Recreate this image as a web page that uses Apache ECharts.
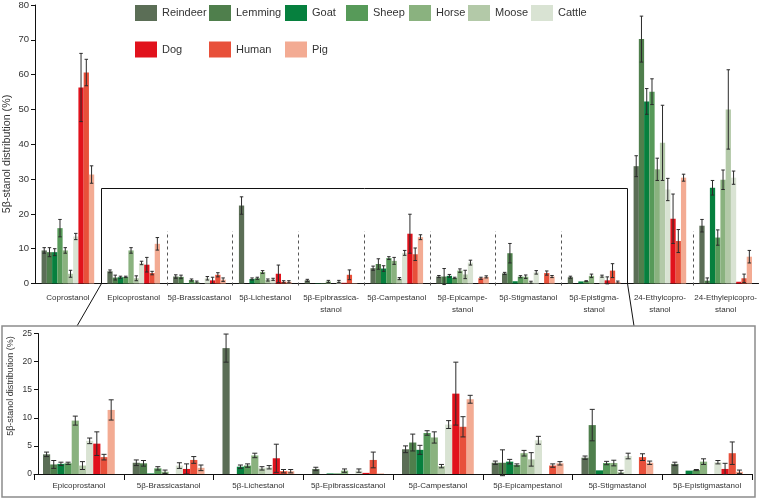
<!DOCTYPE html>
<html><head><meta charset="utf-8">
<script src="https://cdn.jsdelivr.net/npm/echarts@6/dist/echarts.min.js"></script>
<style>html,body{margin:0;padding:0;background:#fff}#c{width:760px;height:500px}</style>
</head><body><div id="c"></div>
<script>
// ---------- data ----------
const categories = ['Coprostanol','Epicoprostanol','5β-Brassicastanol','5β-Lichestanol','5β-Epibrassica-\nstanol','5β-Campestanol','5β-Epicampe-\nstanol','5β-Stigmastanol','5β-Epistigma-\nstanol','24-Ethylcopro-\nstanol','24-Ethylepicopro-\nstanol'];
const zoomCategories = ['Epicoprostanol','5β-Brassicastanol','5β-Lichestanol','5β-Epibrassicastanol','5β-Campestanol','5β-Epicampestanol','5β-Stigmastanol','5β-Epistigmastanol'];
const speciesNames = ['Reindeer','Lemming','Goat','Sheep','Horse','Moose','Cattle','Dog','Human','Pig'];
const speciesColors = ['#5b6e56','#4f7f4c','#06803e','#579a59','#8ab27f','#b3c9a8','#d9e3d3','#e1121c','#e8503a','#f3ab93'];

const reindeer    = [9.5, 3.5, 2.0, 22.4, 0.9, 4.4, 2.0, 2.9, 1.8, 33.7, 16.6];
const reindeerErr = [0.8, 0.4, 0.5, 2.5, 0.3, 0.6, 0.3, 0.3, 0.3, 3.0, 1.8];
const lemming     = [9.0, 1.7, 1.9, 0, 0, 5.6, 2.0, 8.7, 0, 70.2, 0.8];
const lemmingErr  = [1.3, 0.7, 0.5, 0, 0, 1.5, 2.3, 2.8, 0, 6.6, 0.8];
const goat        = [9.0, 1.8, 0.1, 1.3, 0.1, 4.3, 2.2, 0.65, 0.6, 52.3, 27.5];
const goatErr     = [1.0, 0.3, 0, 0.3, 0, 0.8, 0.4, 0, 0, 3.7, 2.1];
const sheep       = [15.9, 1.9, 1.0, 1.5, 0.1, 7.3, 1.6, 1.95, 0.7, 55.1, 13.2];
const sheepErr    = [2.5, 0.2, 0.3, 0.3, 0, 0.4, 0.2, 0.3, 0.1, 3.7, 2.2];
const horse       = [9.5, 9.5, 0.4, 3.3, 0.6, 6.5, 3.7, 1.95, 2.2, 32.8, 29.8];
const horseErr    = [0.8, 0.8, 0.3, 0.4, 0.3, 1.0, 0.5, 0.5, 0.5, 3.2, 2.8];
const moose       = [2.8, 1.5, 0, 1.0, 0, 1.4, 2.6, 0.35, 0, 40.4, 50.0];
const mooseErr    = [1.0, 0.7, 0, 0.3, 0, 0.3, 1.2, 0.3, 0, 10.8, 11.4];
const cattle      = [13.5, 5.9, 1.5, 1.2, 0.6, 8.8, 6.0, 3.2, 2.1, 27.0, 30.4];
const cattleErr   = [0.9, 0.5, 0.5, 0.3, 0.3, 0.7, 0.7, 0.5, 0.3, 3.2, 1.9];
const dog         = [56.3, 5.4, 0.9, 2.8, 0.2, 14.3, 0, 0, 0.9, 18.6, 0.5];
const dogErr      = [9.8, 2.1, 0.9, 2.5, 0, 5.6, 0, 0, 1.0, 7.1, 0];
const human       = [60.6, 3.0, 2.5, 0.5, 2.5, 8.4, 1.5, 3.0, 3.7, 12.2, 1.5];
const humanErr    = [3.8, 0.5, 0.6, 0.3, 1.4, 1.8, 0.3, 0.6, 2.0, 3.3, 1.2];
const pig         = [31.3, 11.4, 1.1, 0.5, 0.1, 13.3, 1.9, 2.0, 0.4, 30.4, 7.7];
const pigErr      = [2.5, 1.8, 0.5, 0.3, 0, 0.7, 0.3, 0.3, 0.3, 1.0, 1.8];

const topTicks = {min: 0, max: 80, interval: 10};
const zoomTicks = {min: 0, max: 25, interval: 5};
const dividerAfter = [1, 2, 3, 4, 5, 6, 7, 9];   // dashed separators after these category indices
const dividerHeight = 15;
const zoomFirst = 1, zoomLast = 8;                 // categories shown in the lower panel

const values = [reindeer, lemming, goat, sheep, horse, moose, cattle, dog, human, pig];
const errors = [reindeerErr, lemmingErr, goatErr, sheepErr, horseErr, mooseErr, cattleErr, dogErr, humanErr, pigErr];

// ---------- chart ----------
const chart = echarts.init(document.getElementById('c'), null, {renderer: 'canvas'});
const FONT = "'Liberation Sans',Arial,sans-serif";
const N = speciesNames.length;
const CAT_GAP = 0.2;

function errSeries(i, xi, yi, vals, errs, capFrac) {
  return {
    type: 'custom', name: speciesNames[i] + '_err', xAxisIndex: xi, yAxisIndex: yi, silent: true, z: 5,
    data: vals.map((v, k) => [k, v, errs[k]]),
    renderItem(params, api) {
      const c = api.value(0), v = api.value(1), e = api.value(2);
      if (!e) return null;
      const band = api.size([1, 0])[0];
      const bw = band * (1 - CAT_GAP) / N;
      const cx = api.coord([c, v])[0] + (i - (N - 1) / 2) * bw;
      const yt = api.coord([c, v + e])[1], yb = api.coord([c, v - e])[1];
      const cap = bw * capFrac;
      const st = {stroke: '#2b2b2b', lineWidth: 1};
      return {type: 'group', children: [
        {type: 'line', shape: {x1: cx, y1: yt, x2: cx, y2: yb}, style: st},
        {type: 'line', shape: {x1: cx - cap, y1: yt, x2: cx + cap, y2: yt}, style: st},
        {type: 'line', shape: {x1: cx - cap, y1: yb, x2: cx + cap, y2: yb}, style: st}
      ]};
    }
  };
}

const series = [];
values.forEach((vals, i) => {
  series.push({type: 'bar', name: speciesNames[i], xAxisIndex: 0, yAxisIndex: 0, data: vals,
    itemStyle: {color: speciesColors[i]}, barGap: '0%', barCategoryGap: (CAT_GAP * 100) + '%'});
});
values.forEach((vals, i) => series.push(errSeries(i, 0, 0, vals, errors[i], 0.33)));
series.push({
  type: 'custom', name: 'dividers', xAxisIndex: 0, yAxisIndex: 0, silent: true, z: 4,
  data: dividerAfter.map(k => [k, dividerHeight]),
  renderItem(params, api) {
    const k = api.value(0);
    const band = api.size([1, 0])[0];
    const x = Math.round(api.coord([k, 0])[0] + band / 2) + 0.5;
    return {type: 'line', shape: {x1: x, y1: api.coord([k, 0])[1] + 2, x2: x, y2: api.coord([k, api.value(1)])[1]},
      style: {stroke: '#555', lineWidth: 1, lineDash: [3, 3]}};
  }
});
values.forEach((vals, i) => {
  series.push({type: 'bar', name: speciesNames[i], xAxisIndex: 1, yAxisIndex: 1, data: vals.slice(zoomFirst, zoomLast + 1),
    itemStyle: {color: speciesColors[i]}, barGap: '0%', barCategoryGap: (CAT_GAP * 100) + '%'});
});
values.forEach((vals, i) => series.push(errSeries(i, 1, 1, vals.slice(zoomFirst, zoomLast + 1), errors[i].slice(zoomFirst, zoomLast + 1), 0.35)));

const legendPos = [[135, 5], [209, 5], [285, 5], [346, 5], [409, 5], [468, 5], [531, 5], [135, 41.5], [209, 41.5], [285, 41.5]];
const legends = speciesNames.map((n, i) => ({
  data: [n], left: legendPos[i][0], top: legendPos[i][1], padding: 0, itemWidth: 22, itemHeight: 16,
  icon: 'rect', selectedMode: false, itemGap: 0,
  textStyle: {fontSize: 11, color: '#333', fontFamily: FONT}
}));

const axisLabelStyle = {fontSize: 8, color: '#333', fontFamily: FONT};

chart.setOption({
  animation: false,
  backgroundColor: '#fff',
  legend: legends,
  grid: [
    {left: 35, right: 1, top: 3.5, height: 280},
    {left: 34, right: 8, top: 333.5, height: 140.5}
  ],
  xAxis: [
    {type: 'category', gridIndex: 0, data: categories, boundaryGap: true,
      axisLine: {lineStyle: {color: '#111', width: 1}}, axisTick: {show: false},
      axisLabel: Object.assign({interval: 0, margin: 8, lineHeight: 12}, axisLabelStyle)},
    {type: 'category', gridIndex: 1, data: zoomCategories, boundaryGap: true,
      axisLine: {lineStyle: {color: '#111', width: 1}}, axisTick: {show: true, length: 6, lineStyle: {color: '#111'}},
      axisLabel: Object.assign({interval: 0, margin: 8}, axisLabelStyle)}
  ],
  yAxis: [
    {type: 'value', gridIndex: 0, min: topTicks.min, max: topTicks.max, interval: topTicks.interval,
      splitLine: {show: false}, axisLine: {show: true, lineStyle: {color: '#111'}},
      axisTick: {show: true, length: 4, lineStyle: {color: '#111'}},
      axisLabel: {fontSize: 9.5, color: '#333', margin: 6, fontFamily: FONT}},
    {type: 'value', gridIndex: 1, min: zoomTicks.min, max: zoomTicks.max, interval: zoomTicks.interval, offset: -4,
      splitLine: {show: false}, axisLine: {show: true, lineStyle: {color: '#111'}},
      axisTick: {show: true, length: 4, lineStyle: {color: '#111'}},
      axisLabel: {fontSize: 8.5, color: '#333', margin: 6, fontFamily: FONT}}
  ],
  series: series
});

const c0 = chart.convertToPixel({xAxisIndex: 0}, 0);
const c1 = chart.convertToPixel({xAxisIndex: 0}, 1);
const band = c1 - c0;
const bx1 = Math.round(chart.convertToPixel({xAxisIndex: 0}, zoomFirst) - band / 2) + 0.5;
const bx2 = Math.round(chart.convertToPixel({xAxisIndex: 0}, zoomLast) + band / 2) + 0.5;
const by0 = chart.convertToPixel({yAxisIndex: 0}, 0);
const byTop = Math.round(chart.convertToPixel({yAxisIndex: 0}, 27.5)) + 0.5;
const frame = {x: 2, y: 326, w: 753, h: 171};
chart.setOption({
  graphic: [
    {type: 'polyline', silent: true, z: 10, shape: {points: [[bx1, by0], [bx1, byTop], [bx2, byTop], [bx2, by0]]},
      style: {stroke: '#111', lineWidth: 1, fill: null}},
    {type: 'line', silent: true, z: 10, shape: {x1: bx1, y1: by0, x2: 77, y2: frame.y}, style: {stroke: '#111', lineWidth: 1}},
    {type: 'line', silent: true, z: 10, shape: {x1: bx2, y1: by0, x2: 634, y2: frame.y}, style: {stroke: '#111', lineWidth: 1}},
    {type: 'rect', silent: true, z: 10, shape: {x: frame.x, y: frame.y, width: frame.w, height: frame.h},
      style: {stroke: '#8c8c8c', lineWidth: 1.5, fill: null}},
    {type: 'text', silent: true, x: 7, y: 154, rotation: Math.PI / 2,
      style: {text: '5β-stanol distribution (%)', fontSize: 10.7, fill: '#333', align: 'center', verticalAlign: 'middle', fontFamily: FONT}},
    {type: 'text', silent: true, x: 11, y: 386, rotation: Math.PI / 2,
      style: {text: '5β-stanol distribution (%)', fontSize: 9, fill: '#333', align: 'center', verticalAlign: 'middle', fontFamily: FONT}}
  ]
});
</script>
</body></html>
